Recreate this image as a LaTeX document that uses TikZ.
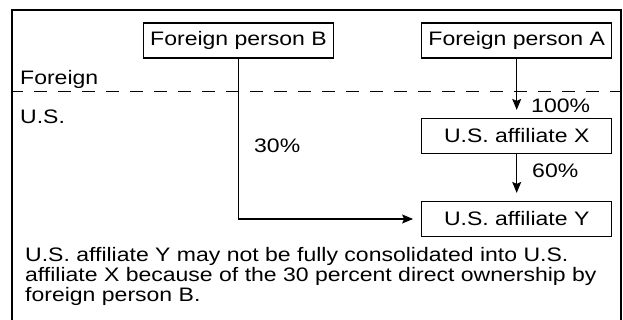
\documentclass[tikz,border=0pt]{standalone}
\usepackage{fontspec}
\setmainfont[FakeStretch=1.18]{Liberation Sans}
\usetikzlibrary{arrows.meta}

\begin{document}
\begin{tikzpicture}[x=1pt,y=-1pt,
    every node/.style={font=\fontsize{19.5}{20}\selectfont},
    firm/.style={draw,line width=1.2pt,minimum width=190pt,minimum height=35pt,inner sep=0pt},
    lbl/.style={anchor=base west,inner sep=0pt},
    own/.style={line width=1.1pt,-{Stealth[length=11pt,width=9pt,inset=2pt]},shorten >=8pt}]
\useasboundingbox (0,0) rectangle (623,320);
% frame and border line
\draw[line width=1.2pt] (12,320) -- (12,10) -- (621,10) -- (621,320);
\draw[line width=1.1pt,dash pattern=on 13pt off 11pt,dash phase=2pt] (12,91.7) -- (621,91.7);
% firms
\node[firm] (fpB) at (238.5,40.5) {Foreign person B};
\node[firm] (fpA) at (516.7,40.5) {Foreign person A};
\node[firm] (affX) at (516.7,136) {U.S. affiliate X};
\node[firm] (affY) at (516.7,219) {U.S. affiliate Y};
% labels
\node[lbl] (frn) at (20,85) {Foreign};
\node[lbl] (us) at (20,124) {U.S.};
\node[lbl] (p100) at (531,113) {100\%};
\node[lbl] (p60) at (532,178) {60\%};
\node[lbl] (p30) at (254,153) {30\%};
\node[anchor=north west,inner sep=0pt,align=left] (note) at (25,247.4)
    {U.S. affiliate Y may not be fully consolidated into U.S.\\
     affiliate X because of the 30 percent direct ownership by\\
     foreign person B.};
% ownership
\draw[own] (fpA) -- (affX);
\draw[own] (affX) -- (affY);
\draw[own] (fpB) |- (affY);
\end{tikzpicture}
\end{document}
